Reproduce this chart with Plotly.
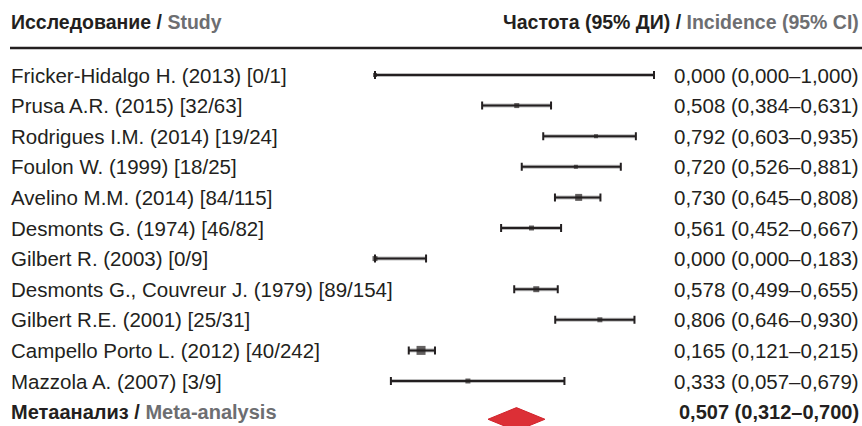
import plotly.graph_objects as go

studies = [
    "Fricker-Hidalgo H. (2013) [0/1]",
    "Prusa A.R. (2015) [32/63]",
    "Rodrigues I.M. (2014) [19/24]",
    "Foulon W. (1999) [18/25]",
    "Avelino M.M. (2014) [84/115]",
    "Desmonts G. (1974) [46/82]",
    "Gilbert R. (2003) [0/9]",
    "Desmonts G., Couvreur J. (1979) [89/154]",
    "Gilbert R.E. (2001) [25/31]",
    "Campello Porto L. (2012) [40/242]",
    "Mazzola A. (2007) [3/9]",
]
est = [0.000, 0.508, 0.792, 0.720, 0.730, 0.561, 0.000, 0.578, 0.806, 0.165, 0.333]
lo = [0.000, 0.384, 0.603, 0.526, 0.645, 0.452, 0.000, 0.499, 0.646, 0.121, 0.057]
hi = [1.000, 0.631, 0.935, 0.881, 0.808, 0.667, 0.183, 0.655, 0.930, 0.215, 0.679]
weights = [4, 5, 4, 4, 7, 5, 5, 6, 5, 9, 5]

meta_label = ("Метаанализ", "Meta-analysis")
meta_est, meta_lo, meta_hi = 0.507, 0.312, 0.700

header_left = ("Исследование", "Study")
header_right = ("Частота (95% ДИ)", "Incidence (95% CI)")

DARK = "#231f20"
GRAY = "#6d6e71"
FONT = "Liberation Sans, Arial, sans-serif"

W, H = 862, 426
X0, XS = 375, 279          # pixel of x=0, pixels per unit
Y0, YS = 75, 30.6          # pixel of row 0, pixels per row

def fmt(v):
    return f"{v:.3f}".replace(".", ",")

rows = list(range(len(studies)))
meta_row = len(studies)

fig = go.Figure()

# light halo under CI lines
hx, hy = [], []
for r, a, b in zip(rows, lo, hi):
    hx += [a, b, None]
    hy += [r, r, None]
fig.add_trace(go.Scatter(x=hx, y=hy, mode="lines",
                         line=dict(color="#bdbdbd", width=4),
                         hoverinfo="skip", showlegend=False))

# CI with caps + weighted square
fig.add_trace(go.Scatter(
    x=est, y=rows, mode="markers",
    marker=dict(symbol="square", size=weights, color=DARK, line=dict(width=0)),
    error_x=dict(type="data", symmetric=False,
                 array=[h - e for h, e in zip(hi, est)],
                 arrayminus=[e - l for e, l in zip(est, lo)],
                 color=DARK, thickness=2, width=4),
    showlegend=False, hoverinfo="skip"))

# meta-analysis diamond
dw, dh, dy = 0.102, 0.38, 0.25
fig.add_trace(go.Scatter(
    x=[meta_est - dw, meta_est, meta_est + dw, meta_est, meta_est - dw],
    y=[meta_row + dy, meta_row + dy - dh, meta_row + dy, meta_row + dy + dh, meta_row + dy],
    mode="lines", fill="toself", fillcolor="#dc2f36",
    line=dict(color="#d1232b", width=1),
    showlegend=False, hoverinfo="skip"))

ann = []
fs = 20.5
for r, s, e, a, b in zip(rows, studies, est, lo, hi):
    ann.append(dict(text=s, xref="paper", x=9 / W, xanchor="left",
                    yref="y", y=r, yanchor="middle", showarrow=False,
                    font=dict(family=FONT, size=fs, color=DARK)))
    ann.append(dict(text=f"{fmt(e)} ({fmt(a)}–{fmt(b)})", xref="paper", x=861 / W,
                    xanchor="right", yref="y", y=r, yanchor="middle", showarrow=False,
                    font=dict(family=FONT, size=fs, color=DARK)))

ann.append(dict(text=f"<b>{meta_label[0]} / <span style='color:{GRAY}'>{meta_label[1]}</span></b>",
                xref="paper", x=9 / W, xanchor="left", yref="y", y=meta_row,
                yanchor="middle", showarrow=False,
                font=dict(family=FONT, size=20, color=DARK)))
ann.append(dict(text=f"<b>{fmt(meta_est)} ({fmt(meta_lo)}–{fmt(meta_hi)})</b>",
                xref="paper", x=861 / W, xanchor="right", yref="y", y=meta_row,
                yanchor="middle", showarrow=False,
                font=dict(family=FONT, size=20, color=DARK)))

hdr_row = (22 - Y0) / YS
ann.append(dict(text=f"<b>{header_left[0]} / <span style='color:{GRAY}'>{header_left[1]}</span></b>",
                xref="paper", x=9 / W, xanchor="left", yref="y", y=hdr_row,
                yanchor="middle", showarrow=False,
                font=dict(family=FONT, size=19.5, color=DARK)))
ann.append(dict(text=f"<b>{header_right[0]} / <span style='color:{GRAY}'>{header_right[1]}</span></b>",
                xref="paper", x=861 / W, xanchor="right", yref="y", y=hdr_row,
                yanchor="middle", showarrow=False,
                font=dict(family=FONT, size=19.5, color=DARK)))

line_row = (48 - Y0) / YS
shapes = [dict(type="line", xref="paper", x0=10 / W, x1=1, yref="y",
               y0=line_row, y1=line_row, line=dict(color=DARK, width=2.5))]

fig.update_layout(
    width=W, height=H, margin=dict(l=0, r=0, t=0, b=0),
    paper_bgcolor="white", plot_bgcolor="white",
    xaxis=dict(range=[-X0 / XS, (W - X0) / XS], visible=False, fixedrange=True),
    yaxis=dict(range=[(H - Y0) / YS, -Y0 / YS], visible=False, fixedrange=True),
    annotations=ann, shapes=shapes,
)

fig.write_html("out.html", config={"displayModeBar": False},
               post_script="document.body.style.margin='0';document.body.style.overflow='hidden';")
